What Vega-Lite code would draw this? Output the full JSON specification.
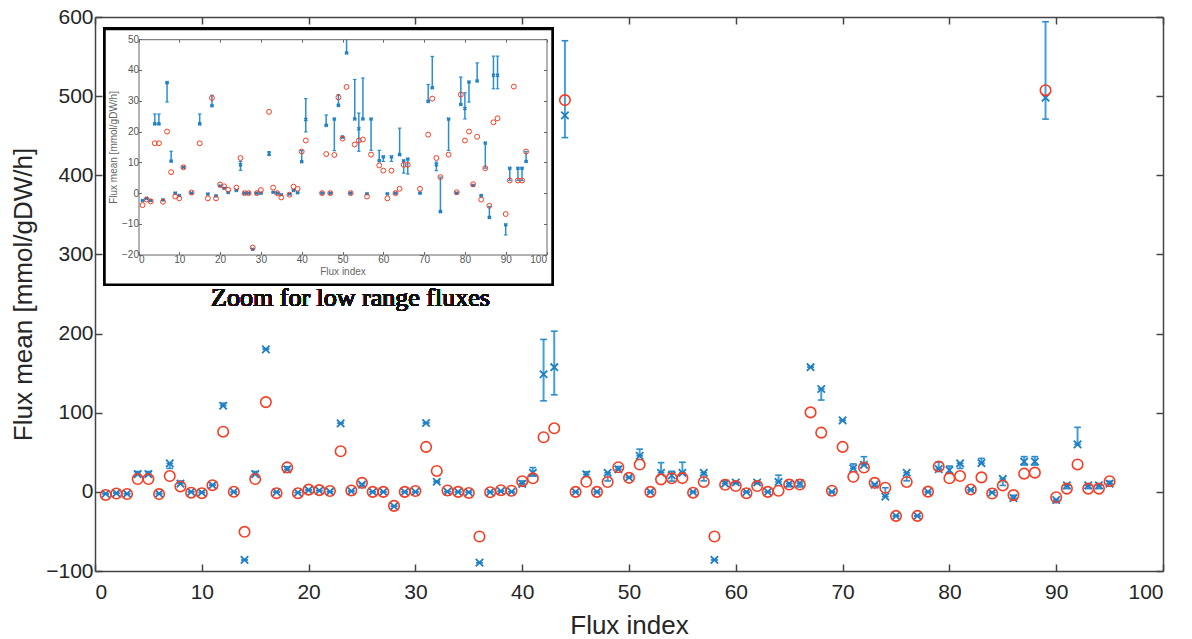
{
  "$schema": "https://vega.github.io/schema/vega-lite/v6.json",
  "width": 1068,
  "height": 554,
  "autosize": "none",
  "padding": {"left": 95, "top": 17, "right": 29, "bottom": 68},
  "background": "white",
  "config": {"view": {"stroke": null}, "font": "Liberation Sans"},
  "data": {"values": [
    {"i":1,"mu":-2.4,"lo":-2.4,"hi":-2.4,"r":-3.9},
    {"i":2,"mu":-1.7,"lo":-1.7,"hi":-1.7,"r":-2.1},
    {"i":3,"mu":-2.4,"lo":-2.4,"hi":-2.4,"r":-2.7},
    {"i":4,"mu":22.5,"lo":22.5,"hi":25.7,"r":16.2},
    {"i":5,"mu":22.5,"lo":22.5,"hi":25.7,"r":16.2},
    {"i":6,"mu":-2.2,"lo":-2.2,"hi":-2.2,"r":-2.8},
    {"i":7,"mu":35.9,"lo":29.6,"hi":35.9,"r":20},
    {"i":8,"mu":10.4,"lo":10.4,"hi":13.6,"r":6.8},
    {"i":9,"mu":0,"lo":0,"hi":0,"r":-1.1},
    {"i":10,"mu":-0.8,"lo":-0.8,"hi":-0.8,"r":-1.7},
    {"i":11,"mu":8.4,"lo":8.4,"hi":8.4,"r":8.4},
    {"i":12,"mu":108.8,"lo":108.8,"hi":112,"r":76},
    {"i":13,"mu":0,"lo":0,"hi":0,"r":0.2},
    {"i":14,"mu":-86,"lo":-86,"hi":-86,"r":-50.5},
    {"i":15,"mu":22.5,"lo":22.5,"hi":25.7,"r":16.2},
    {"i":16,"mu":180,"lo":180,"hi":181,"r":113.4},
    {"i":17,"mu":-0.3,"lo":-0.3,"hi":-0.3,"r":-1.7},
    {"i":18,"mu":28.4,"lo":28.4,"hi":31.8,"r":30.9},
    {"i":19,"mu":-0.9,"lo":-0.9,"hi":-0.9,"r":-1.7},
    {"i":20,"mu":2.3,"lo":2.3,"hi":2.3,"r":2.8},
    {"i":21,"mu":1.6,"lo":1.6,"hi":1.6,"r":2.2},
    {"i":22,"mu":0.2,"lo":0.2,"hi":0.2,"r":1.1},
    {"i":23,"mu":86.6,"lo":86.6,"hi":86.6,"r":51.3},
    {"i":24,"mu":0.9,"lo":0.9,"hi":0.9,"r":1.8},
    {"i":25,"mu":9.2,"lo":7.4,"hi":10.3,"r":11.4},
    {"i":26,"mu":0,"lo":0,"hi":0,"r":0},
    {"i":27,"mu":0,"lo":0,"hi":0,"r":0},
    {"i":28,"mu":-18.2,"lo":-18.2,"hi":-18.2,"r":-17.7},
    {"i":29,"mu":0,"lo":0,"hi":0,"r":0},
    {"i":30,"mu":0,"lo":0,"hi":0,"r":1},
    {"i":31,"mu":87,"lo":87,"hi":87,"r":56.8},
    {"i":32,"mu":12.8,"lo":12.2,"hi":13.5,"r":26.4},
    {"i":33,"mu":0.3,"lo":0.3,"hi":0.3,"r":1.8},
    {"i":34,"mu":0,"lo":0,"hi":0,"r":0},
    {"i":35,"mu":-0.5,"lo":-0.5,"hi":-0.5,"r":-1.4},
    {"i":36,"mu":-89.5,"lo":-89.5,"hi":-89.5,"r":-56.4},
    {"i":37,"mu":-0.3,"lo":-0.3,"hi":-0.3,"r":-0.5},
    {"i":38,"mu":0.9,"lo":0.9,"hi":0.9,"r":2.1},
    {"i":39,"mu":0.1,"lo":0.1,"hi":0.1,"r":1.4},
    {"i":40,"mu":10.2,"lo":10.2,"hi":13.8,"r":13.5},
    {"i":41,"mu":23.9,"lo":19.9,"hi":30.7,"r":17.1},
    {"i":42,"mu":148.6,"lo":115,"hi":192.6,"r":69},
    {"i":43,"mu":157.5,"lo":122.6,"hi":203,"r":80.3},
    {"i":44,"mu":475.7,"lo":447.6,"hi":570,"r":495},
    {"i":45,"mu":0,"lo":0,"hi":0,"r":0},
    {"i":46,"mu":22,"lo":22,"hi":25.4,"r":12.7},
    {"i":47,"mu":0,"lo":0,"hi":0,"r":0},
    {"i":48,"mu":24.1,"lo":13.8,"hi":24.1,"r":12.4},
    {"i":49,"mu":28.5,"lo":28.5,"hi":32,"r":31.1},
    {"i":50,"mu":18.2,"lo":18.2,"hi":18.5,"r":17.7},
    {"i":51,"mu":45.5,"lo":45.5,"hi":54,"r":34.5},
    {"i":52,"mu":0,"lo":0,"hi":0,"r":0},
    {"i":53,"mu":24.1,"lo":24.1,"hi":36.9,"r":15.8},
    {"i":54,"mu":20.9,"lo":13.6,"hi":26,"r":17.1},
    {"i":55,"mu":24.1,"lo":24.1,"hi":37.4,"r":17.4},
    {"i":56,"mu":-0.2,"lo":-0.2,"hi":-0.2,"r":-1.1},
    {"i":57,"mu":24.1,"lo":13.9,"hi":24.1,"r":12.5},
    {"i":58,"mu":-86,"lo":-86,"hi":-86,"r":-56.4},
    {"i":59,"mu":10.5,"lo":10.5,"hi":13.9,"r":9},
    {"i":60,"mu":11.8,"lo":10.3,"hi":11.8,"r":7.3},
    {"i":61,"mu":-0.2,"lo":-0.2,"hi":-0.2,"r":-1.7},
    {"i":62,"mu":11.8,"lo":10.3,"hi":11.8,"r":7.3},
    {"i":63,"mu":0,"lo":0,"hi":0,"r":0},
    {"i":64,"mu":12.5,"lo":12.5,"hi":21.1,"r":1.4},
    {"i":65,"mu":10.5,"lo":6.5,"hi":10.5,"r":9.2},
    {"i":66,"mu":11.1,"lo":6.2,"hi":11.1,"r":9.2},
    {"i":67,"mu":157.5,"lo":157.5,"hi":157.5,"r":100.4},
    {"i":68,"mu":130,"lo":116,"hi":130,"r":74.8},
    {"i":69,"mu":0,"lo":0,"hi":0,"r":1.4},
    {"i":70,"mu":90.3,"lo":90.3,"hi":90.3,"r":56.8},
    {"i":71,"mu":29.8,"lo":29.8,"hi":35.3,"r":19},
    {"i":72,"mu":34.2,"lo":34.2,"hi":44.4,"r":30.7},
    {"i":73,"mu":9.2,"lo":7.3,"hi":10.1,"r":11.4},
    {"i":74,"mu":-6,"lo":-6,"hi":5.2,"r":5.2},
    {"i":75,"mu":-30.4,"lo":-30.4,"hi":-30.4,"r":-30.4},
    {"i":76,"mu":24.1,"lo":13.9,"hi":24.1,"r":12.5},
    {"i":77,"mu":-30.4,"lo":-30.4,"hi":-30.4,"r":-30.4},
    {"i":78,"mu":0,"lo":0,"hi":0,"r":0.3},
    {"i":79,"mu":28.8,"lo":28.8,"hi":37.7,"r":32},
    {"i":80,"mu":27.5,"lo":24.1,"hi":32.6,"r":17.1},
    {"i":81,"mu":36.1,"lo":29.6,"hi":36.1,"r":20},
    {"i":82,"mu":2.5,"lo":2.5,"hi":2.5,"r":2.9},
    {"i":83,"mu":36.4,"lo":36.4,"hi":42.3,"r":18.3},
    {"i":84,"mu":-0.8,"lo":-0.8,"hi":-0.8,"r":-2.1},
    {"i":85,"mu":16.3,"lo":8.1,"hi":16.3,"r":8.1},
    {"i":86,"mu":-7.9,"lo":-7.9,"hi":-4.3,"r":-4.1},
    {"i":87,"mu":38.3,"lo":33.9,"hi":44.5,"r":23},
    {"i":88,"mu":38.3,"lo":33.9,"hi":44.5,"r":24.3},
    {"i":89,"mu":498,"lo":471,"hi":594,"r":507.5},
    {"i":90,"mu":-10.3,"lo":-13.6,"hi":-10.3,"r":-6.8},
    {"i":91,"mu":8.1,"lo":4.1,"hi":8.1,"r":4.1},
    {"i":92,"mu":60,"lo":60,"hi":81.5,"r":34.6},
    {"i":93,"mu":8.1,"lo":4.1,"hi":8.1,"r":4.1},
    {"i":94,"mu":8.1,"lo":4.1,"hi":8.1,"r":4.1},
    {"i":95,"mu":10.3,"lo":10.3,"hi":13.5,"r":13.5}
  ]},
  "layer": [
    {
      "layer": [
        {
          "mark": {"type": "rect", "fill": "white", "stroke": "black", "strokeWidth": 2.5},
          "encoding": {
            "x": {"datum": 0.89, "type": "quantitative", "scale": {"domain": [0, 100], "nice": false},
                  "axis": {"orient": "bottom", "values": [0,10,20,30,40,50,60,70,80,90,100], "title": "Flux index", "titleFontSize": 26, "titleFontWeight": "normal", "titleColor": "#262626", "labelFontSize": 21, "labelColor": "#262626", "labelPadding": 17, "tickSize": -7, "tickColor": "#444", "domainColor": "#444", "domainWidth": 1.5, "tickWidth": 1.5, "titlePadding": 10}},
            "x2": {"datum": 42.84},
            "y": {"datum": 584.8, "type": "quantitative", "scale": {"domain": [-100, 600], "nice": false},
                  "axis": {"orient": "left", "values": [-100,0,100,200,300,400,500,600], "title": "Flux mean [mmol/gDW/h]", "titleFontSize": 26, "titleFontWeight": "normal", "titleColor": "#262626", "labelFontSize": 21, "labelColor": "#262626", "labelPadding": 9, "tickSize": -7, "tickColor": "#444", "domainColor": "#444", "domainWidth": 1.5, "tickWidth": 1.5, "titlePadding": 9}},
            "y2": {"datum": 261.6}
          }
        },
        {
          "mark": {"type": "rule", "color": "#43a0db", "strokeWidth": 2},
          "encoding": {
            "x": {"field": "i", "type": "quantitative", "scale": {"domain": [0, 100], "nice": false},
                  "axis": {"orient": "top", "values": [0,10,20,30,40,50,60,70,80,90,100], "labels": false, "title": null, "tickSize": -7, "tickColor": "#444", "domainColor": "#444", "domainWidth": 1.5, "tickWidth": 1.5}},
            "y": {"field": "lo", "type": "quantitative", "scale": {"domain": [-100, 600], "nice": false},
                  "axis": {"orient": "right", "values": [-100,0,100,200,300,400,500,600], "labels": false, "title": null, "tickSize": -7, "tickColor": "#444", "domainColor": "#444", "domainWidth": 1.5, "tickWidth": 1.5}},
            "y2": {"field": "hi"}
          }
        },
        {
          "mark": {"type": "point", "shape": "stroke", "size": 45, "color": "#2a8ccc", "strokeWidth": 1.6, "opacity": 1},
          "encoding": {
            "x": {"field": "i", "type": "quantitative", "axis": null},
            "y": {"field": "lo", "type": "quantitative", "axis": null}
          }
        },
        {
          "mark": {"type": "point", "shape": "stroke", "size": 45, "color": "#2a8ccc", "strokeWidth": 1.6, "opacity": 1},
          "encoding": {
            "x": {"field": "i", "type": "quantitative", "axis": null},
            "y": {"field": "hi", "type": "quantitative", "axis": null}
          }
        },
        {
          "mark": {"type": "point", "shape": "M-1,-1L1,1M-1,1L1,-1", "size": 55, "filled": false, "color": "#1f7ec2", "strokeWidth": 1.8, "opacity": 1},
          "encoding": {
            "x": {"field": "i", "type": "quantitative", "axis": null},
            "y": {"field": "mu", "type": "quantitative", "axis": null}
          }
        },
        {
          "mark": {"type": "point", "shape": "circle", "size": 110, "filled": false, "color": "#f83c22", "strokeWidth": 1.6, "opacity": 1},
          "encoding": {
            "x": {"field": "i", "type": "quantitative", "axis": null},
            "y": {"field": "r", "type": "quantitative", "axis": null}
          }
        },
        {
          "mark": {"type": "text", "text": "Zoom for low range fluxes", "font": "Times New Roman", "fontSize": 26, "fontWeight": 400, "align": "center", "baseline": "alphabetic", "fill": "#111111", "opacity": 1},
          "encoding": {
            "x": {"datum": 23.92, "type": "quantitative", "axis": null},
            "y": {"datum": 234.5, "type": "quantitative", "axis": null}
          }
        }
      ],
      "resolve": {"axis": {"x": "independent", "y": "independent"}}
    },
    {
      "layer": [
        {
          "transform": [{"filter": "datum.lo <= 50 && datum.hi >= -20"}],
          "mark": {"type": "rule", "color": "#2a8fd0", "strokeWidth": 1.5},
          "encoding": {
            "x": {"field": "i", "type": "quantitative", "scale": {"domain": [0, 100], "range": [43.5, 451.5], "nice": false},
                  "axis": {"orient": "bottom", "offset": -316.5, "zindex": 1, "values": [0,10,20,30,40,50,60,70,80,90,100], "title": "Flux index", "titleFontSize": 10, "titleFontWeight": "normal", "titleColor": "#666", "titlePadding": 2, "labelFontSize": 10, "labelColor": "#555", "labelPadding": 3, "tickSize": -3, "tickColor": "#666", "domainColor": "#666", "domainWidth": 1}},
            "y": {"field": "lo", "type": "quantitative", "scale": {"domain": [-20, 50], "range": [237.7, 22.2], "nice": false, "clamp": true},
                  "axis": {"orient": "left", "offset": -43.5, "zindex": 1, "values": [-20,-10,0,10,20,30,40,50], "title": "Flux mean [mmol/gDW/h]", "titleFontSize": 10, "titleFontWeight": "normal", "titleColor": "#666", "titlePadding": 3, "labelFontSize": 10, "labelColor": "#555", "labelPadding": 3, "tickSize": -3, "tickColor": "#666", "domainColor": "#666", "domainWidth": 1}},
            "y2": {"field": "hi"}
          }
        },
        {
          "transform": [{"filter": "datum.lo >= -20 && datum.lo <= 50"}],
          "mark": {"type": "point", "shape": "stroke", "size": 12, "color": "#2a8fd0", "strokeWidth": 1.2, "opacity": 1},
          "encoding": {
            "x": {"field": "i", "type": "quantitative",
                  "axis": {"orient": "top", "offset": -22.2, "zindex": 1, "values": [0,10,20,30,40,50,60,70,80,90,100], "labels": false, "title": null, "tickSize": -3, "tickColor": "#666", "domainColor": "#666", "domainWidth": 1}},
            "y": {"field": "lo", "type": "quantitative",
                  "axis": {"orient": "right", "offset": -616.5, "zindex": 1, "values": [-20,-10,0,10,20,30,40,50], "labels": false, "title": null, "tickSize": -3, "tickColor": "#666", "domainColor": "#666", "domainWidth": 1}}
          }
        },
        {
          "transform": [{"filter": "datum.hi >= -20 && datum.hi <= 50"}],
          "mark": {"type": "point", "shape": "stroke", "size": 12, "color": "#2a8fd0", "strokeWidth": 1.2, "opacity": 1},
          "encoding": {
            "x": {"field": "i", "type": "quantitative", "axis": null},
            "y": {"field": "hi", "type": "quantitative", "axis": null}
          }
        },
        {
          "transform": [{"filter": "datum.mu >= -20 && datum.mu <= 50"}],
          "mark": {"type": "point", "shape": "M-1,-1L1,1M-1,1L1,-1", "size": 9, "filled": false, "color": "#1f7ec2", "strokeWidth": 1.5, "opacity": 1},
          "encoding": {
            "x": {"field": "i", "type": "quantitative", "axis": null},
            "y": {"field": "mu", "type": "quantitative", "axis": null}
          }
        },
        {
          "transform": [{"filter": "datum.r >= -20 && datum.r <= 50"}],
          "mark": {"type": "point", "shape": "circle", "size": 24, "filled": false, "color": "#f83c22", "strokeWidth": 1, "opacity": 1},
          "encoding": {
            "x": {"field": "i", "type": "quantitative", "axis": null},
            "y": {"field": "r", "type": "quantitative", "axis": null}
          }
        }
      ],
      "resolve": {"axis": {"x": "independent", "y": "independent"}}
    }
  ],
  "resolve": {"scale": {"x": "independent", "y": "independent"}, "axis": {"x": "independent", "y": "independent"}}
}
